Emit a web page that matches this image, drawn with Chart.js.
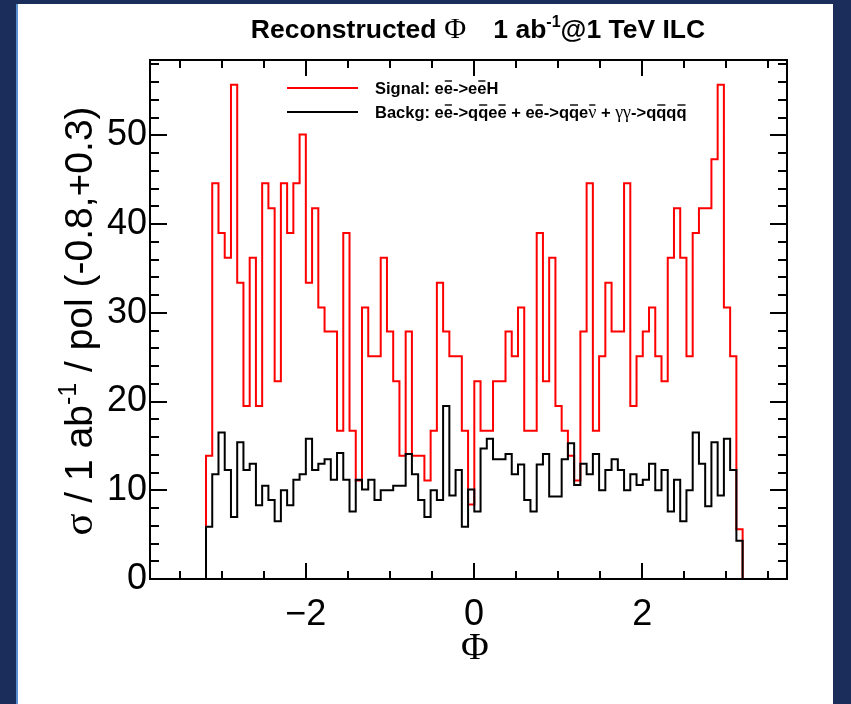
<!DOCTYPE html>
<html>
<head>
<meta charset="utf-8">
<script src="https://cdn.jsdelivr.net/npm/chart.js@4/dist/chart.umd.min.js"></script>
<style>
  html, body { margin: 0; padding: 0; background: #ffffff; }
  canvas { display: block; }
</style>
</head>
<body>
<canvas id="phiChart" width="851" height="704"></canvas>
<script>
// Frame range of the Phi axis and the histogram binning
const PHI_MIN = -3.853;
const PHI_MAX = 3.722;
const FIRST_EDGE = -3.187;
const BIN_WIDTH = 0.0742;

// Signal: ee -> eeH, cross section per bin
const signal = [
  13.9, 44.6, 39.0, 36.2, 55.7, 33.4, 19.5, 36.2, 19.5, 44.6,
  41.8, 22.3, 44.6, 39.0, 44.6, 50.1, 33.4, 41.8, 30.6, 27.9,
  27.9, 16.7, 39.0, 16.7, 11.1, 30.6, 25.1, 25.1, 36.2, 27.9,
  22.3, 13.9, 27.9, 13.9, 13.9, 11.1, 16.7, 33.4, 27.9, 25.1,
  25.1, 16.7, 8.4, 22.3, 16.7, 16.7, 22.3, 22.3, 27.9, 25.1,
  30.6, 16.7, 16.7, 39.0, 22.3, 36.2, 19.5, 16.7, 13.9, 11.1,
  27.9, 44.6, 16.7, 25.1, 33.4, 27.9, 27.9, 44.6, 19.5, 25.1,
  27.9, 30.6, 25.1, 22.3, 36.2, 41.8, 36.2, 25.1, 39.0, 41.8,
  41.8, 47.3, 55.7, 30.6, 25.1, 5.6
];

// Background: ee -> qqee + ee -> qqenu + gamma gamma -> qqqq
const background = [
  5.9, 11.8, 16.5, 12.3, 7.0, 15.4, 12.3, 13.0, 8.3, 10.5,
  8.9, 6.5, 10.0, 8.3, 11.2, 11.8, 15.8, 12.3, 13.0, 13.5,
  11.2, 14.2, 11.2, 7.6, 11.2, 10.1, 11.2, 8.9, 10.0, 10.0,
  10.5, 10.5, 14.1, 11.8, 8.9, 7.0, 10.0, 8.9, 19.5, 9.4,
  12.3, 5.9, 10.1, 7.6, 14.7, 15.8, 13.5, 13.5, 14.1, 11.8,
  12.9, 8.9, 7.6, 12.9, 14.1, 9.3, 9.3, 13.5, 15.3, 10.6,
  13.0, 11.8, 14.1, 10.0, 12.3, 13.5, 12.3, 10.0, 11.8, 10.6,
  11.2, 13.0, 10.0, 12.3, 7.6, 11.2, 6.5, 10.0, 16.5, 13.0,
  8.2, 15.4, 9.4, 15.8, 12.3, 4.3
];

const xTickValues = [-2, 0, 2];
const yTickValues = [0, 10, 20, 30, 40, 50];
const Y_MAX = 58.5;

// Outline of a histogram: zero outside the filled bins, one step per bin
function histogramOutline(values) {
  const pts = [{ x: PHI_MIN, y: 0 }];
  values.forEach((v, i) => pts.push({ x: FIRST_EDGE + i * BIN_WIDTH, y: v }));
  pts.push({ x: FIRST_EDGE + values.length * BIN_WIDTH, y: 0 });
  pts.push({ x: PHI_MAX, y: 0 });
  return pts;
}

const SANS = '"Liberation Sans", Arial, Helvetica, sans-serif';
const SERIF = '"Liberation Serif", "Times New Roman", serif';

// Draws a row of text runs; runs may carry an overline or be raised as superscript
function drawRuns(ctx, runs, x, y, align) {
  let total = 0;
  const widths = runs.map(r => {
    ctx.font = r.font;
    const w = ctx.measureText(r.t).width;
    total += w + (r.gap || 0);
    return w;
  });
  let cx = align === 'center' ? x - total / 2 : x;
  runs.forEach((r, i) => {
    ctx.font = r.font;
    const dy = r.rise || 0;
    ctx.fillText(r.t, cx, y - dy);
    if (r.bar) {
      ctx.save();
      ctx.lineWidth = 1.4;
      ctx.beginPath();
      ctx.moveTo(cx + 1, y - r.bar);
      ctx.lineTo(cx + widths[i] - 1, y - r.bar);
      ctx.stroke();
      ctx.restore();
    }
    cx += widths[i] + (r.gap || 0);
  });
}

const pagePlugin = {
  id: 'page',
  beforeDraw(chart) {
    const ctx = chart.ctx;
    ctx.save();
    ctx.fillStyle = '#1b2d5b';
    ctx.fillRect(0, 0, chart.width, chart.height);
    ctx.fillStyle = '#ffffff';
    ctx.fillRect(18, 4, 815, 700);
    ctx.fillStyle = '#5b8fd0';
    ctx.fillRect(16, 4, 2, 700);
    ctx.restore();
  }
};

const framePlugin = {
  id: 'frame',
  afterDatasetsDraw(chart) {
    const { ctx, chartArea: a, scales: { x, y } } = chart;
    ctx.save();
    ctx.strokeStyle = '#000';
    ctx.lineWidth = 2;
    ctx.strokeRect(a.left, a.top, a.right - a.left, a.bottom - a.top);
    ctx.beginPath();
    for (let k = Math.ceil(x.min / 0.5); k * 0.5 <= x.max; k++) {
      const px = Math.round(x.getPixelForValue(k * 0.5));
      const len = k % 4 === 0 ? 16 : 8;
      ctx.moveTo(px, a.bottom); ctx.lineTo(px, a.bottom - len);
      ctx.moveTo(px, a.top); ctx.lineTo(px, a.top + len);
    }
    for (let v = 0; v <= y.max; v += 2) {
      const py = Math.round(y.getPixelForValue(v));
      const len = v % 10 === 0 ? 17 : 9;
      ctx.moveTo(a.left, py); ctx.lineTo(a.left + len, py);
      ctx.moveTo(a.right, py); ctx.lineTo(a.right - len, py);
    }
    ctx.stroke();
    ctx.restore();
  }
};

const textPlugin = {
  id: 'texts',
  afterDraw(chart) {
    const ctx = chart.ctx;
    ctx.save();
    ctx.fillStyle = '#000';
    ctx.strokeStyle = '#000';
    ctx.textBaseline = 'alphabetic';
    ctx.textAlign = 'left';

    // Title
    const TB = 'bold 26.5px ' + SANS;
    drawRuns(ctx, [
      { t: 'Reconstructed', font: TB, gap: 8 },
      { t: 'Φ', font: '30px ' + SERIF, gap: 27 },
      { t: '1 ab', font: TB },
      { t: '-1', font: 'bold 16px ' + SANS, rise: 11 },
      { t: '@1 TeV ILC', font: TB }
    ], 478, 38, 'center');

    // Legend
    const LB = 'bold 16.5px ' + SANS;
    const LG = '18px ' + SERIF;
    const bh = 13;
    ctx.lineWidth = 2;
    ctx.beginPath();
    ctx.strokeStyle = '#ff0000';
    ctx.moveTo(287, 88); ctx.lineTo(358, 88);
    ctx.stroke();
    ctx.beginPath();
    ctx.strokeStyle = '#000';
    ctx.moveTo(287, 112); ctx.lineTo(358, 112);
    ctx.stroke();
    drawRuns(ctx, [
      { t: 'Signal: e', font: LB }, { t: 'e', font: LB, bar: bh },
      { t: '->e', font: LB }, { t: 'e', font: LB, bar: bh }, { t: 'H', font: LB }
    ], 375, 94, 'left');
    drawRuns(ctx, [
      { t: 'Backg: e', font: LB }, { t: 'e', font: LB, bar: bh },
      { t: '->q', font: LB }, { t: 'q', font: LB, bar: bh },
      { t: 'e', font: LB }, { t: 'e', font: LB, bar: bh },
      { t: ' + e', font: LB }, { t: 'e', font: LB, bar: bh },
      { t: '->q', font: LB }, { t: 'q', font: LB, bar: bh },
      { t: 'e', font: LB }, { t: 'ν', font: LG, bar: bh },
      { t: ' + ', font: LB }, { t: 'γγ', font: LG },
      { t: '->q', font: LB }, { t: 'q', font: LB, bar: bh },
      { t: 'q', font: LB }, { t: 'q', font: LB, bar: bh }
    ], 375, 118, 'left');

    // Axis titles
    drawRuns(ctx, [{ t: 'Φ', font: '38px ' + SERIF }], 475, 659, 'center');

    ctx.translate(92, 321);
    ctx.rotate(-Math.PI / 2);
    const AF = '39px ' + SANS;
    drawRuns(ctx, [
      { t: 'σ', font: '41px ' + SERIF },
      { t: ' / 1 ab', font: AF },
      { t: '-1', font: '25px ' + SANS, rise: 16 },
      { t: ' / pol (-0.8,+0.3)', font: AF }
    ], 0, 0, 'center');
    ctx.restore();
  }
};

new Chart(document.getElementById('phiChart'), {
  type: 'line',
  data: {
    datasets: [
      {
        label: 'Backg',
        data: histogramOutline(background),
        borderColor: '#000000',
        borderWidth: 2,
        stepped: 'before',
        pointRadius: 0,
        fill: false,
        order: 0
      },
      {
        label: 'Signal',
        data: histogramOutline(signal),
        borderColor: '#ff0000',
        borderWidth: 2,
        stepped: 'before',
        pointRadius: 0,
        fill: false,
        order: 1
      }
    ]
  },
  options: {
    responsive: false,
    animation: false,
    devicePixelRatio: 1,
    layout: { padding: { left: 0, top: 60, right: 64, bottom: 0 } },
    plugins: {
      legend: { display: false },
      tooltip: { enabled: false },
      title: { display: false }
    },
    scales: {
      x: {
        type: 'linear',
        min: PHI_MIN,
        max: PHI_MAX,
        afterBuildTicks: s => { s.ticks = xTickValues.map(v => ({ value: v })); },
        afterFit: s => { s.height = 125; },
        grid: { display: false, drawTicks: false },
        border: { display: false },
        ticks: {
          padding: 14,
          maxRotation: 0,
          color: '#000',
          font: { family: SANS, size: 36 },
          callback: v => (v < 0 ? '\u2212' + Math.abs(v) : String(v))
        }
      },
      y: {
        type: 'linear',
        min: 0,
        max: Y_MAX,
        afterBuildTicks: s => { s.ticks = yTickValues.map(v => ({ value: v })); },
        afterFit: s => { s.width = 150; },
        grid: { display: false, drawTicks: false },
        border: { display: false },
        ticks: {
          padding: 3,
          color: '#000',
          font: { family: SANS, size: 36 },
          callback: v => String(v)
        }
      }
    }
  },
  plugins: [pagePlugin, framePlugin, textPlugin]
});
</script>
</body>
</html>
